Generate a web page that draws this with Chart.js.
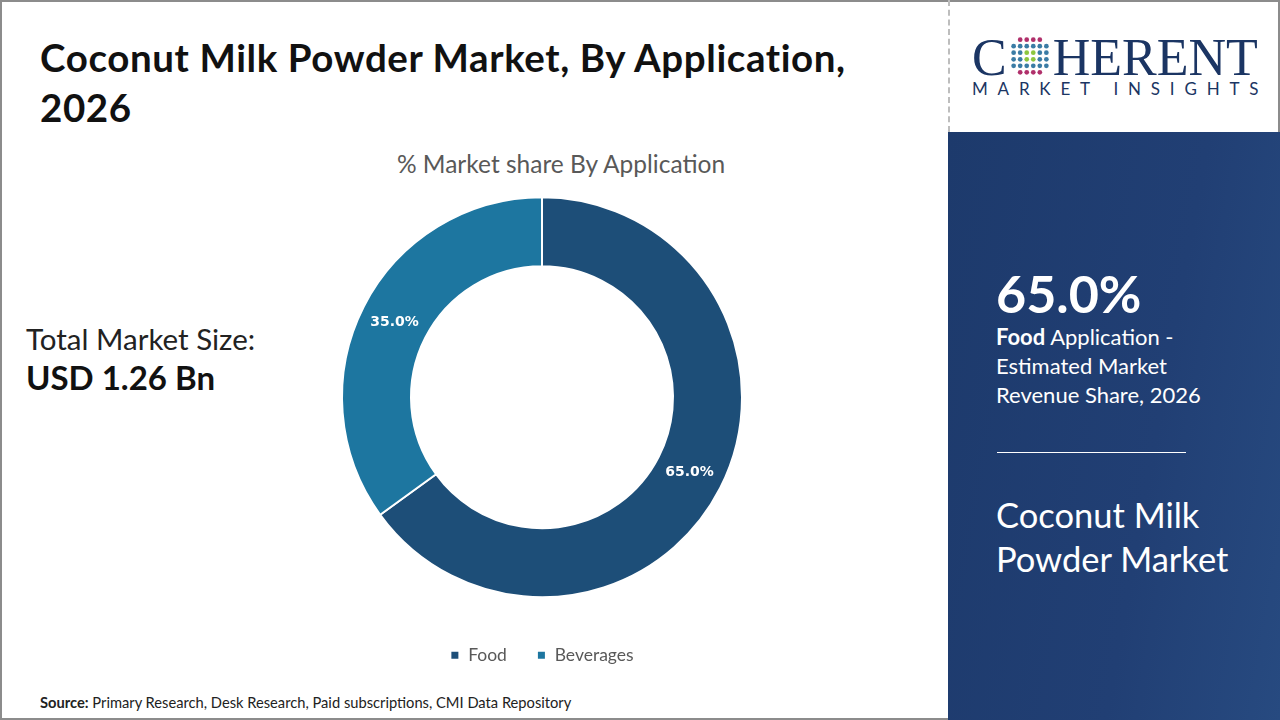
<!DOCTYPE html>
<html>
<head>
<meta charset="utf-8">
<script src="https://cdn.jsdelivr.net/npm/chart.js@4"></script>
<style>
  html, body { margin: 0; padding: 0; }
  body { width: 1280px; height: 720px; position: relative; overflow: hidden; background: #fff; font-family: Lato, "Open Sans", sans-serif; }
  .frame { position: absolute; left: 0; top: 0; width: 1276px; height: 716px; border: 2px solid #8c8c8c; }
  .title { position: absolute; left: 40px; top: 32px; font-size: 38.5px; font-weight: 700; color: #111; line-height: 50px; letter-spacing: 0.6px; }
  .subtitle { position: absolute; left: 291px; width: 540px; top: 149px; text-align: center; font-size: 24.5px; color: #595959; }
  .total { position: absolute; left: 26px; top: 320px; font-size: 29.5px; color: #222; line-height: 38px; }
  .total b { font-size: 33px; color: #111; }
  .source { position: absolute; left: 40px; top: 693px; font-size: 14.7px; color: #222; }
  #wrap { position: absolute; left: 292px; top: 140px; width: 500px; height: 540px; }
  .logoBox { position: absolute; left: 948px; top: 0; width: 332px; height: 132px; border-left: 2px dashed #bdbdbd; box-sizing: border-box; }
  .panel { position: absolute; left: 948px; top: 132px; width: 332px; height: 588px; background: linear-gradient(100deg, #1d3a6c 0%, #213f74 60%, #274a80 100%); color: #fff; }
  .big { position: absolute; left: 48px; top: 130px; font-size: 52px; font-weight: 700; }
  .desc { position: absolute; left: 48px; top: 190px; font-size: 22px; line-height: 29px; }
  .rule { position: absolute; left: 49px; top: 320px; width: 189px; height: 1px; background: #fff; }
  .name { position: absolute; left: 48px; top: 361px; font-size: 34.5px; line-height: 44px; }
  .coh { position: absolute; left: 22px; top: 28px; font-family: "Liberation Serif", serif; font-size: 52px; color: #1b3563; white-space: nowrap; }
  .mi { position: absolute; left: 22px; top: 78px; font-size: 17px; color: #1b3563; letter-spacing: 9.8px; white-space: nowrap; }
</style>
</head>
<body>
<div class="frame"></div>
<div class="title">Coconut Milk Powder Market, By Application,<br>2026</div>
<div class="subtitle">% Market share By Application</div>
<div class="total">Total Market Size:<br><b>USD 1.26 Bn</b></div>
<div id="wrap"><canvas id="chart"></canvas></div>
<div class="source"><b>Source:</b> Primary Research, Desk Research, Paid subscriptions, CMI Data Repository</div>

<div class="logoBox">
  <div class="coh">C<svg width="40" height="40" viewBox="0 0 44 44" style="vertical-align:-1px;margin:0 3px">
    <g id="dots"></g></svg>HERENT</div>
  <div class="mi">MARKET INSIGHTS</div>
</div>
<div class="panel">
  <div class="big">65.0%</div>
  <div class="desc"><b>Food</b> Application -<br>Estimated Market<br>Revenue Share, 2026</div>
  <div class="rule"></div>
  <div class="name">Coconut Milk<br>Powder Market</div>
</div>

<script>
// data
const categories = ['Food', 'Beverages'];
const shares = [65.0, 35.0];
const colors = ['#1d4e78', '#1d76a0'];

// logo globe dots (decoration)
const g = document.getElementById('dots');
for (let r = 0; r < 6; r++) {
  for (let c = 0; c < 6; c++) {
    const x = 4 + c * 7.2, y = 4 + r * 7.2;
    const d = Math.hypot(x - 22, y - 22);
    if (d > 21) continue;
    let fill = '#3a7ca5';
    if (d < 9) fill = '#8cc63f';
    else if (r === 0 || r === 5) fill = '#b0306b';
    const el = document.createElementNS('http://www.w3.org/2000/svg', 'circle');
    el.setAttribute('cx', x); el.setAttribute('cy', y); el.setAttribute('r', 2.6);
    el.setAttribute('fill', fill);
    g.appendChild(el);
  }
}

const sliceLabels = {
  id: 'sliceLabels',
  afterDatasetsDraw(chart) {
    const ctx = chart.ctx;
    const meta = chart.getDatasetMeta(0);
    ctx.save();
    ctx.fillStyle = '#fff';
    ctx.font = 'bold 14px "DejaVu Sans", Verdana, sans-serif';
    ctx.textAlign = 'center';
    ctx.textBaseline = 'middle';
    meta.data.forEach((arc, i) => {
      const p = arc.tooltipPosition();
      ctx.fillText(shares[i].toFixed(1) + '%', p.x, p.y);
    });
    ctx.restore();
  }
};

new Chart(document.getElementById('chart'), {
  type: 'doughnut',
  data: {
    labels: categories,
    datasets: [{
      data: shares,
      backgroundColor: colors,
      borderColor: '#fff',
      borderWidth: 2
    }]
  },
  options: {
    responsive: true,
    maintainAspectRatio: false,
    animation: false,
    radius: 200,
    cutout: '65.5%',
    layout: { padding: { top: 38, bottom: 6 } },
    plugins: {
      legend: {
        position: 'bottom',
        labels: {
          usePointStyle: true,
          pointStyle: 'rect',
          boxWidth: 9,
          boxHeight: 9,
          padding: 30,
          color: '#595959',
          font: { size: 17.5, family: 'Lato, sans-serif' }
        }
      },
      tooltip: { enabled: false }
    }
  },
  plugins: [sliceLabels]
});
</script>
</body>
</html>
